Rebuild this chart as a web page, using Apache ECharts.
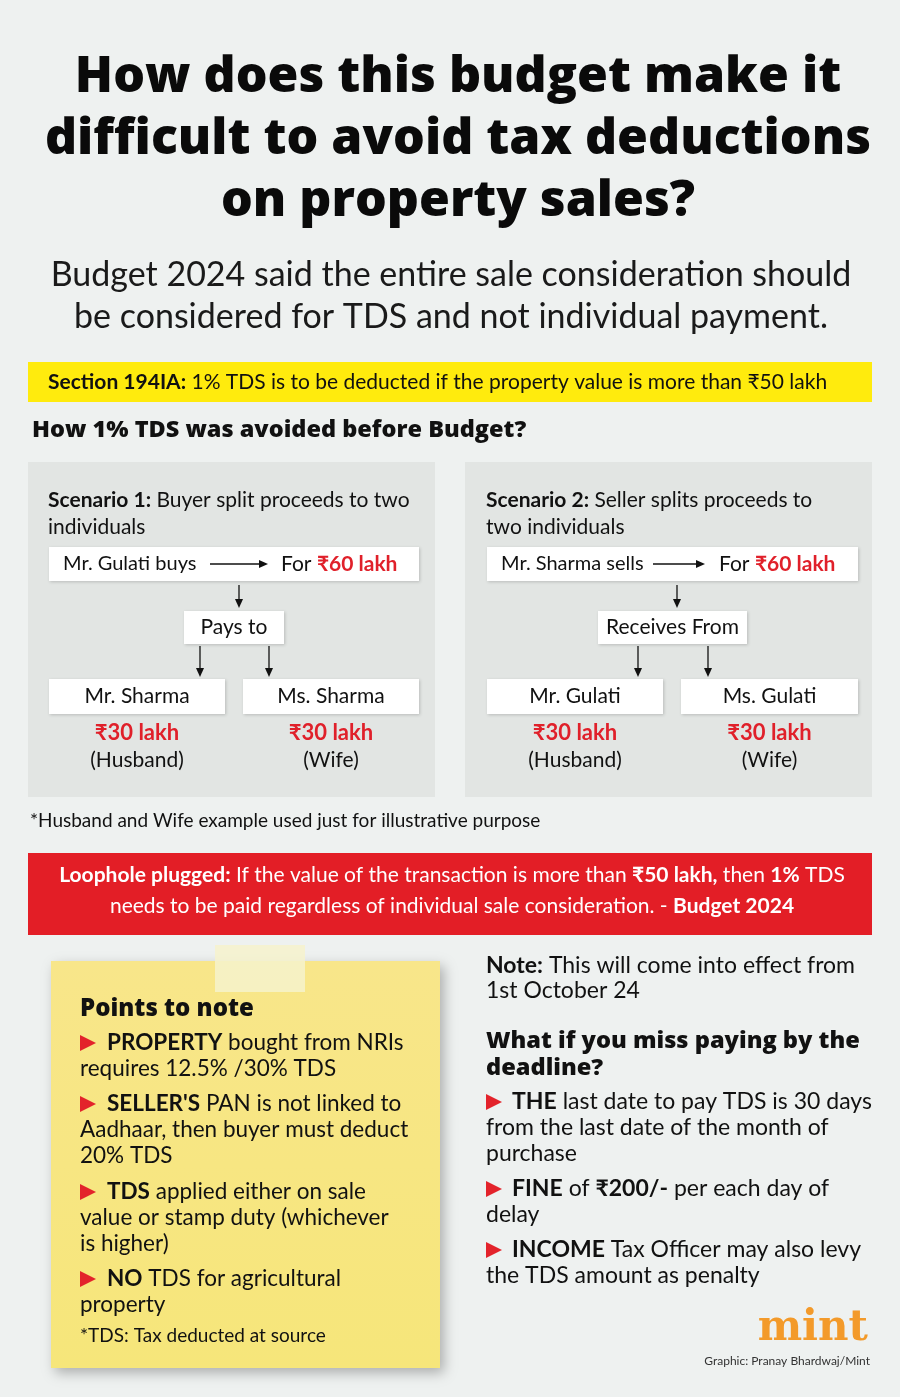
<!DOCTYPE html>
<html><head><meta charset="utf-8">
<script src="https://cdn.jsdelivr.net/npm/echarts@6/dist/echarts.min.js"></script>
<style>html,body{margin:0;padding:0;background:#eef1f0}#c{width:900px;height:1397px}</style>
</head><body><div id="c"></div>
<script>
// ---------- content (data) ----------
const titleLines = ['How does this budget make it', 'difficult to avoid tax deductions', 'on property sales?'];
const subtitleLines = ['Budget 2024 said the entire sale consideration should', 'be considered for TDS and not individual payment.'];
const thresholdLakh = 50;
const tdsRatePct = 1;
const propertyValueLakh = 60;
const splitValuesLakh = [30, 30];
const splitRoles = ['(Husband)', '(Wife)'];
const scenarioTitles = [['Scenario 1:', ' Buyer split proceeds to two', 'individuals'], ['Scenario 2:', ' Seller splits proceeds to', 'two individuals']];
const scenarioActors = ['Mr. Gulati buys', 'Mr. Sharma sells'];
const scenarioMiddle = ['Pays to', 'Receives From'];
const scenarioPeople = [['Mr. Sharma', 'Ms. Sharma'], ['Mr. Gulati', 'Ms. Gulati']];
const pointsToNote = [
  ['PROPERTY', ' bought from NRIs', 'requires 12.5% /30% TDS'],
  ['SELLER\'S', ' PAN is not linked to', 'Aadhaar, then buyer must deduct', '20% TDS'],
  ['TDS', ' applied either on sale', 'value or stamp duty (whichever', 'is higher)'],
  ['NO', ' TDS for agricultural', 'property']
];
const missItems = [
  ['THE', ' last date to pay TDS is 30 days', 'from the last date of the month of', 'purchase'],
  ['FINE', ' of ', '₹200/-', ' per each day of', 'delay'],
  ['INCOME', ' Tax Officer may also levy', 'the TDS amount as penalty']
];

// ---------- drawing ----------
const BODY = 'Lato, "Open Sans", sans-serif';
const HEAD = '"Open Sans", Lato, sans-serif';
const RED = '#e0202a';
const g = [];
function rect(x, y, w, h, fill, extra) {
  g.push(Object.assign({ type: 'rect', shape: { x: x, y: y, width: w, height: h }, style: { fill: fill }, silent: true }, extra || {}));
}
function txt(x, y, text, o) {
  o = o || {};
  g.push({ type: 'text', silent: true, style: {
    x: x, y: y, text: text, fill: o.fill || '#111', fontSize: o.size || 21, fontWeight: o.weight || 'normal',
    fontFamily: o.family || BODY, align: o.align || 'left', verticalAlign: 'middle',
    rich: o.rich || undefined
  }});
}
function richStyles(size, fill) {
  return {
    n: { fontSize: size, fontFamily: BODY, fill: fill || '#111', fontWeight: 'normal' },
    b: { fontSize: size, fontFamily: BODY, fill: fill || '#111', fontWeight: 'bold' },
    r: { fontSize: size, fontFamily: BODY, fill: RED, fontWeight: 'bold' }
  };
}
function hArrow(x1, x2, y) {
  g.push({ type: 'line', silent: true, shape: { x1: x1, y1: y, x2: x2 - 6, y2: y }, style: { stroke: '#111', lineWidth: 1.3 } });
  g.push({ type: 'polygon', silent: true, shape: { points: [[x2, y], [x2 - 9, y - 4], [x2 - 9, y + 4]] }, style: { fill: '#111' } });
}
function vArrow(x, y1, y2) {
  g.push({ type: 'line', silent: true, shape: { x1: x, y1: y1, x2: x, y2: y2 - 6 }, style: { stroke: '#111', lineWidth: 1.3 } });
  g.push({ type: 'polygon', silent: true, shape: { points: [[x, y2], [x - 4, y2 - 9], [x + 4, y2 - 9]] }, style: { fill: '#111' } });
}
function tri(x, y) {
  g.push({ type: 'polygon', silent: true, shape: { points: [[x, y - 8], [x + 16, y], [x, y + 8]] }, style: { fill: '#e3232b' } });
}
const boxShadow = { shadowBlur: 3, shadowColor: 'rgba(0,0,0,0.18)', shadowOffsetY: 1, shadowOffsetX: 1 };
function wbox(x, y, w, h) { rect(x, y, w, h, '#fff', { style: Object.assign({ fill: '#fff' }, boxShadow) }); }

// background
rect(0, 0, 900, 1397, '#eef1f0');

// title
titleLines.forEach((l, i) => txt(458, 78 + i * 62, l, { size: 50, weight: 800, family: HEAD, align: 'center', fill: '#0a0a0a' }));
subtitleLines.forEach((l, i) => txt(451, 275 + i * 42, l, { size: 34, align: 'center', fill: '#1a1a1a' }));

// yellow band
rect(28, 362, 844, 40, '#ffeb0d');
txt(48, 382, '{b|Section 194IA:}{n| ' + tdsRatePct + '% TDS is to be deducted if the property value is more than ₹' + thresholdLakh + ' lakh}', { rich: richStyles(21) });

txt(32, 430, 'How ' + tdsRatePct + '% TDS was avoided before Budget?', { size: 23.5, weight: 800, family: HEAD });

// scenario panels
const panels = [
  { px: 28, pw: 407, bx: 49, bw: 370, tx: 48, ax1: 210, ax2: 268, forX: 281, downX: 239, midX: 184, midW: 100, a1: 200, a2: 269, b1x: 49, b1w: 176, b2x: 243, b2w: 176 },
  { px: 465, pw: 407, bx: 487, bw: 371, tx: 486, ax1: 653, ax2: 705, forX: 719, downX: 677, midX: 598, midW: 149, a1: 638, a2: 708, b1x: 487, b1w: 176, b2x: 681, b2w: 177 }
];
panels.forEach((p, i) => {
  rect(p.px, 462, p.pw, 335, '#e2e5e3');
  const st = scenarioTitles[i];
  txt(p.tx, 500, '{b|' + st[0] + '}{n|' + st[1] + '}', { rich: richStyles(21) });
  txt(p.tx, 527, st[2], { size: 21 });
  wbox(p.bx, 547, p.bw, 34);
  txt(p.bx + 14, 564, scenarioActors[i], { size: 20 });
  hArrow(p.ax1, p.ax2, 564);
  txt(p.forX, 564, '{n|For }{r|₹' + propertyValueLakh + ' lakh}', { rich: richStyles(21) });
  vArrow(p.downX, 585, 608);
  wbox(p.midX, 611, p.midW, 33);
  txt(p.midX + p.midW / 2, 627, scenarioMiddle[i], { size: 21, align: 'center' });
  vArrow(p.a1, 646, 677);
  vArrow(p.a2, 646, 677);
  const bxs = [[p.b1x, p.b1w], [p.b2x, p.b2w]];
  bxs.forEach((b, j) => {
    wbox(b[0], 679, b[1], 35);
    const cx = b[0] + b[1] / 2;
    txt(cx, 696, scenarioPeople[i][j], { size: 21, align: 'center' });
    txt(cx, 733, '₹' + splitValuesLakh[j] + ' lakh', { size: 22, weight: 'bold', fill: RED, align: 'center' });
    txt(cx, 760, splitRoles[j], { size: 21, align: 'center' });
  });
});

txt(30, 821, '*Husband and Wife example used just for illustrative purpose', { size: 19 });

// red band
rect(28, 853, 844, 82, '#e31e26');
const W = richStyles(21, '#fff');
txt(452, 875, '{b|Loophole plugged:}{n| If the value of the transaction is more than }{b|₹' + thresholdLakh + ' lakh,}{n| then }{b|' + tdsRatePct + '%}{n| TDS}', { rich: W, align: 'center' });
txt(452, 906, '{n|needs to be paid regardless of individual sale consideration. - }{b|Budget 2024}', { rich: W, align: 'center' });

// sticky note
g.push({ type: 'rect', silent: true, shape: { x: 51, y: 961, width: 389, height: 407 },
  style: { fill: { type: 'linear', x: 0, y: 0, x2: 0, y2: 1, colorStops: [{ offset: 0, color: '#f8e68a' }, { offset: 1, color: '#f6e67a' }] },
    shadowBlur: 12, shadowColor: 'rgba(0,0,0,0.28)', shadowOffsetX: 4, shadowOffsetY: 5 } });
rect(215, 945, 90, 47, 'rgba(246,242,205,0.85)');
txt(80, 1009, 'Points to note', { size: 24, weight: 800, family: HEAD });
const ptY = [[1043, 1069], [1104, 1130, 1156], [1192, 1218, 1244], [1279, 1305]];
pointsToNote.forEach((it, i) => {
  const ys = ptY[i];
  tri(80, ys[0]);
  txt(107, ys[0], '{b|' + it[0] + '}{n|' + it[1] + '}', { rich: richStyles(22.5) });
  for (let k = 2; k < it.length; k++) txt(80, ys[k - 1], it[k], { size: 22.5 });
});
txt(80, 1336, '*TDS: Tax deducted at source', { size: 19 });

// right column
const RS = 23;
txt(486, 966, '{b|Note:}{n| This will come into effect from}', { rich: richStyles(RS) });
txt(486, 991, '1st October 24', { size: RS });
txt(486, 1041, 'What if you miss paying by the', { size: 23.6, weight: 800, family: HEAD });
txt(486, 1068, 'deadline?', { size: 23.6, weight: 800, family: HEAD });
const R = richStyles(RS);
tri(486, 1102);
txt(512, 1102, '{b|' + missItems[0][0] + '}{n|' + missItems[0][1] + '}', { rich: R });
txt(486, 1128, missItems[0][2], { size: RS });
txt(486, 1154, missItems[0][3], { size: RS });
tri(486, 1189);
txt(512, 1189, '{b|' + missItems[1][0] + '}{n|' + missItems[1][1] + '}{b|' + missItems[1][2] + '}{n|' + missItems[1][3] + '}', { rich: R });
txt(486, 1215, missItems[1][4], { size: RS });
tri(486, 1250);
txt(512, 1250, '{b|' + missItems[2][0] + '}{n|' + missItems[2][1] + '}', { rich: R });
txt(486, 1276, missItems[2][2], { size: RS });

// logo & credit
txt(868, 1329, 'mint', { size: 42, weight: 'bold', family: '"DejaVu Serif", serif', fill: '#f39a2a', align: 'right' });
txt(870, 1361, 'Graphic: Pranay Bhardwaj/Mint', { size: 12, fill: '#333', align: 'right' });

const chart = echarts.init(document.getElementById('c'), null, { renderer: 'canvas' });
chart.setOption({ animation: false, graphic: { elements: g } });
</script></body></html>
